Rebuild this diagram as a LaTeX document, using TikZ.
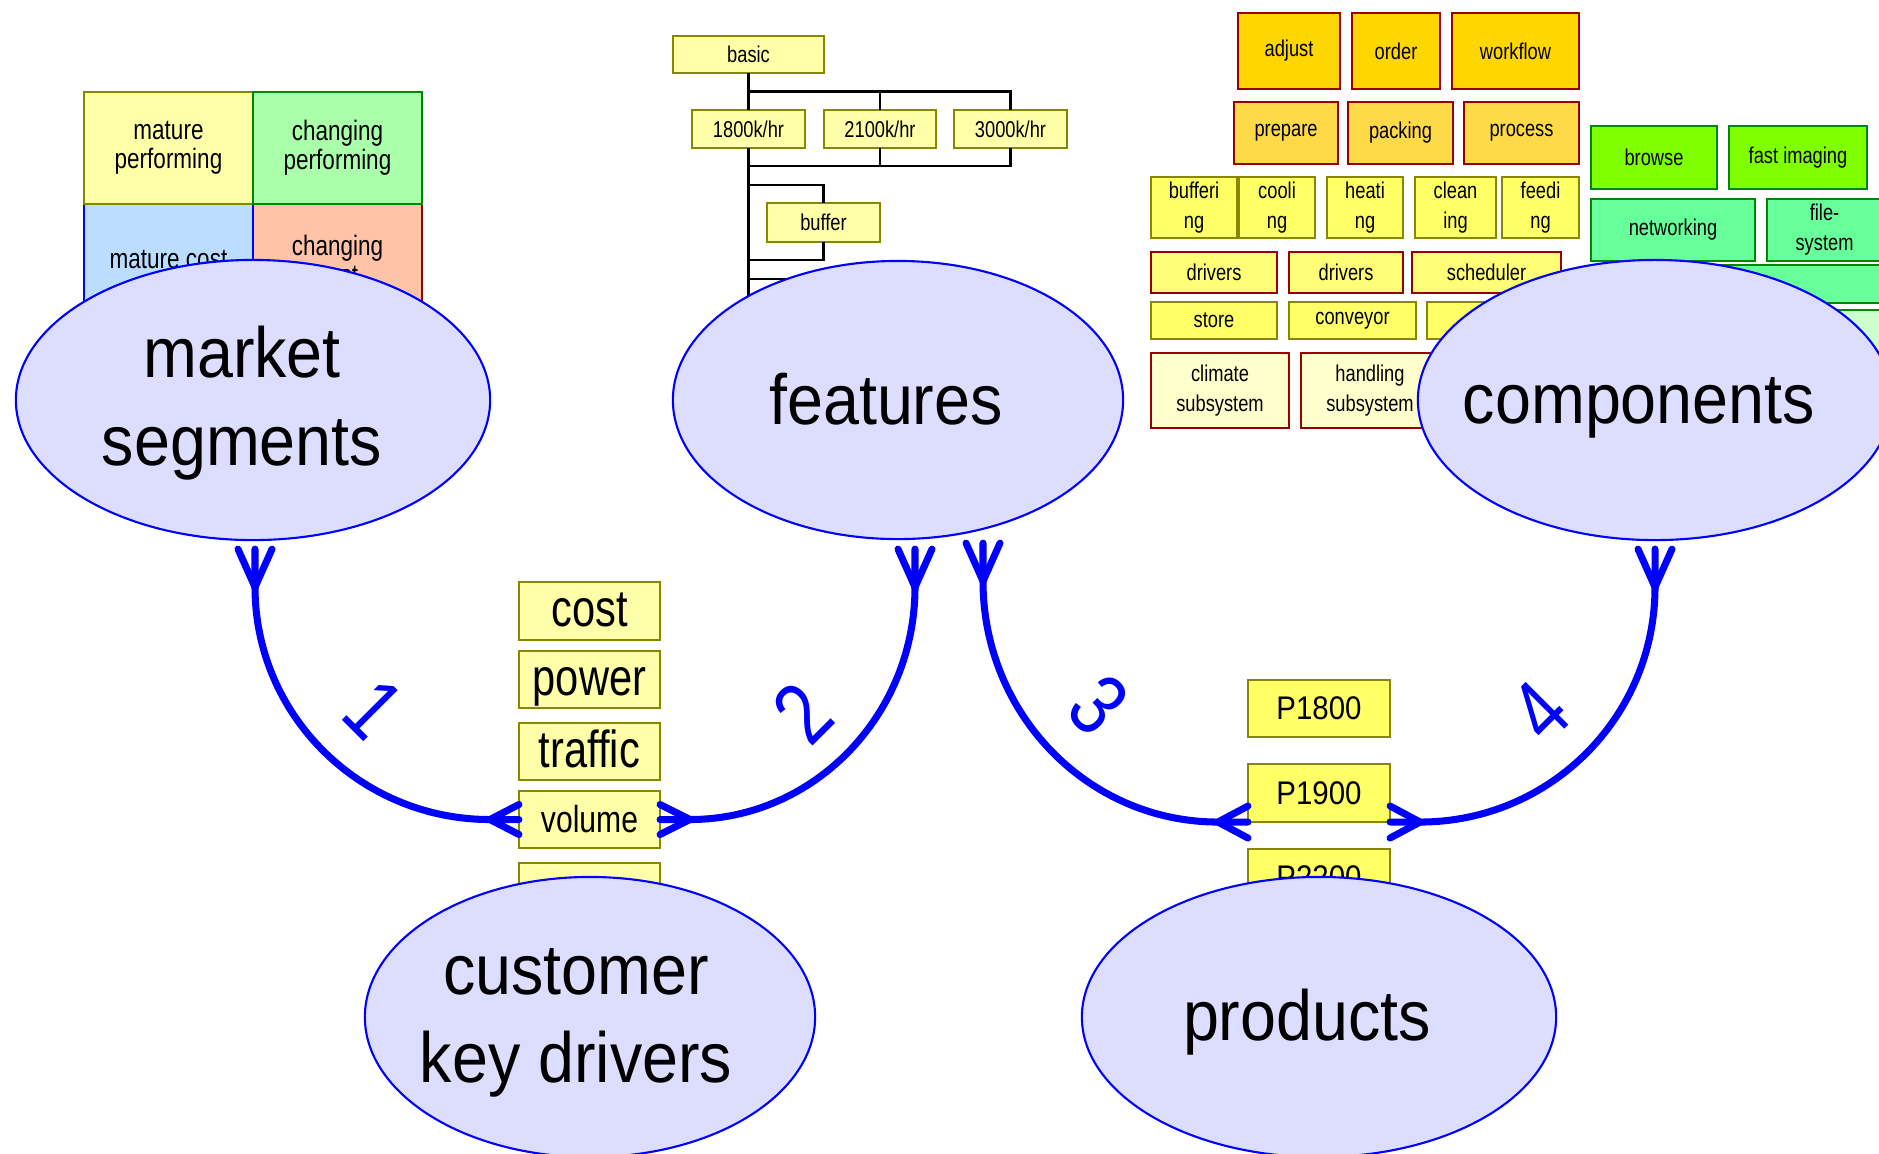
\documentclass[tikz,border=0pt]{standalone}
\usepackage{fontspec}
\setmainfont{Liberation Sans}
\newfontfamily\narrowsf[FakeStretch=0.8]{Liberation Sans}
\newfontfamily\bubblesf[FakeStretch=0.91]{Liberation Sans}
\newfontfamily\prodsf[FakeStretch=0.9]{Liberation Sans}
\usetikzlibrary{shapes.geometric,calc}

\definecolor{bubble}{RGB}{221,221,255}
\definecolor{paleyellow}{RGB}{255,255,170}
\definecolor{oliveline}{RGB}{136,136,0}
\definecolor{redline}{RGB}{153,0,0}
\definecolor{greenline}{RGB}{0,136,0}
\definecolor{goldA}{RGB}{255,215,0}
\definecolor{goldB}{RGB}{255,218,72}
\definecolor{yellowA}{RGB}{255,255,102}
\definecolor{yellowB}{RGB}{255,255,119}
\definecolor{cream}{RGB}{255,255,204}
\definecolor{limefill}{RGB}{128,255,0}
\definecolor{mintfill}{RGB}{102,255,153}
\definecolor{palegreen}{RGB}{204,255,204}
\definecolor{seggreen}{RGB}{170,255,170}
\definecolor{segblue}{RGB}{187,221,255}
\definecolor{segorange}{RGB}{255,196,168}

\begin{document}
\begin{tikzpicture}[x=0.01cm,y=-0.01cm,
  box/.style={draw, rectangle, inner sep=0pt, outer sep=0pt, line width=0.65pt, align=center},
  sz/.style 2 args={minimum width=#1cm, minimum height=#2cm},
  oliveBox/.style={box, draw=oliveline},
  redBox/.style={box, draw=redline},
  greenBox/.style={box, draw=greenline},
  small/.style={font=\narrowsf\fontsize{6.5pt}{8.5pt}\selectfont},
  segtext/.style={font=\narrowsf\fontsize{8pt}{8.3pt}\selectfont},
  bigkey/.style={font=\narrowsf\fontsize{14.8pt}{16pt}\selectfont, text height=8.8pt, text depth=0pt},
  midkey/.style={font=\narrowsf\fontsize{10.7pt}{12pt}\selectfont, text height=7.1pt, text depth=0pt},
  prodtext/.style={font=\prodsf\fontsize{9.3pt}{11pt}\selectfont},
  bubbleshape/.style={ellipse, draw=blue, fill=bubble, line width=0.6pt, inner sep=0pt, outer sep=0pt},
  bubbletext/.style={font=\bubblesf\fontsize{20.2pt}{24.75pt}\selectfont, align=center, anchor=base, inner sep=0pt},
  tree/.style={draw=black, line width=0.6pt},
  conn/.style={draw=blue, line width=2pt, line cap=round, line join=round},
  num/.style={font=\narrowsf\fontsize{25pt}{25pt}\selectfont, text=blue, inner sep=0pt}
]
\clip (0,0) rectangle (1879,1153);
\fill[white] (0,0) rectangle (1879,1153);

% ---- market segments grid ----
\node[box, draw=redline, fill=segorange, sz={1.69}{1.12}, segtext] (cc) at (337.5,260) {changing\\cost};
\node[box, draw=blue, fill=segblue, sz={1.69}{1.12}, segtext] (mc) at (168.5,260) {mature cost};
\node[oliveBox, fill=paleyellow, sz={1.69}{1.12}, segtext] (mp) at (168.5,148) {mature\\performing};
\node[greenBox, fill=seggreen, sz={1.69}{1.12}, segtext] (cp) at (337.5,148) {changing\\performing};

% ---- feature tree ----
\node[oliveBox, fill=paleyellow, sz={1.51}{0.37}, small] (basic) at (748.5,54.5) {basic};
\node[oliveBox, fill=paleyellow, sz={1.13}{0.38}, small] (r18) at (748.5,129) {1800k/hr};
\node[oliveBox, fill=paleyellow, sz={1.12}{0.38}, small] (r21) at (880,129) {2100k/hr};
\node[oliveBox, fill=paleyellow, sz={1.13}{0.38}, small] (r30) at (1010.5,129) {3000k/hr};
\node[oliveBox, fill=paleyellow, sz={1.13}{0.39}, small] (buf) at (823.5,222.5) {buffer};
\coordinate (j0) at ($(basic.south)!0.5!(r18.north)$);
\coordinate (j1) at ($(r18.south)+(0,18)$);
\coordinate (j2) at ($(r18.south)+(0,37)$);
\coordinate (j3) at ($(r18.south)+(0,112)$);
\coordinate (j4) at ($(r18.south)+(0,131)$);
\draw[tree] (basic.south) -- (r18.north);
\draw[tree] (j0) -| (r21.north);
\draw[tree] (j0) -| (r30.north);
\draw[tree] (r21.south) |- (j1);
\draw[tree] (r30.south) |- (j1);
\draw[tree] (r18.south) -- ++(0,200);
\draw[tree] (j2) -| (buf.north);
\draw[tree] (buf.south) |- (j3);
\draw[tree] (j4) -- ++(100,0);

% ---- component blocks ----
\node[redBox, fill=goldA, sz={1.02}{0.76}, small] (adjust) at (1289,51) {adjust};
\node[redBox, fill=goldA, sz={0.88}{0.76}, small] (order) at (1396,51) {order};
\node[redBox, fill=goldA, sz={1.27}{0.76}, small] (workflow) at (1515.5,51) {workflow};
\node[redBox, fill=goldB, sz={1.04}{0.62}, small] (prepare) at (1286,133) {prepare};
\node[redBox, fill=goldB, sz={1.05}{0.62}, small] (packing) at (1400.5,133) {packing};
\node[redBox, fill=goldB, sz={1.15}{0.62}, small] (process) at (1521.5,133) {process};
\node[oliveBox, fill=yellowA, sz={0.86}{0.61}, small] (buffering) at (1194,207.5) {bufferi\\ng};
\node[oliveBox, fill=yellowA, sz={0.76}{0.61}, small] (cooling) at (1277,207.5) {cooli\\ng};
\node[oliveBox, fill=yellowA, sz={0.76}{0.61}, small] (heating) at (1365,207.5) {heati\\ng};
\node[oliveBox, fill=yellowA, sz={0.81}{0.61}, small] (cleaning) at (1455.5,207.5) {clean\\ing};
\node[oliveBox, fill=yellowA, sz={0.77}{0.61}, small] (feeding) at (1540.5,207.5) {feedi\\ng};
\node[redBox, fill=yellowB, sz={1.26}{0.41}, small] (drvA) at (1214,272.5) {drivers};
\node[redBox, fill=yellowB, sz={1.14}{0.41}, small] (drvB) at (1346,272.5) {drivers};
\node[redBox, fill=yellowB, sz={1.49}{0.41}, small] (sched) at (1486.5,272.5) {scheduler};
\node[oliveBox, fill=yellowA, sz={1.26}{0.37}, small] (store) at (1214,320.5) {store};
\node[oliveBox, fill=yellowA, sz={1.27}{0.37}, small] (conveyor) at (1352.5,320.5) {conveyor};
\node[oliveBox, fill=yellowA, sz={1.34}{0.37}, small] (rowfive) at (1494,320.5) {};
\node[redBox, fill=cream, sz={1.38}{0.75}, small] (climate) at (1220,390.5) {climate\\subsystem};
\node[redBox, fill=cream, sz={1.38}{0.75}, small] (handling) at (1370,390.5) {handling\\subsystem};

\node[greenBox, fill=limefill, sz={1.26}{0.63}, small] (browse) at (1654,157.5) {browse};
\node[greenBox, fill=limefill, sz={1.38}{0.63}, small] (fastimg) at (1798,157.5) {fast imaging};
\node[greenBox, fill=mintfill, sz={1.64}{0.62}, small] (networking) at (1673,230) {networking};
\node[greenBox, fill=mintfill, sz={1.15}{0.62}, small] (filesys) at (1824.5,230) {file-\\system};
\node[greenBox, fill=mintfill, sz={2.99}{0.38}] (gthree) at (1740.5,284) {};
\node[greenBox, fill=palegreen, sz={2.99}{0.42}] (gfour) at (1740.5,331) {};

% ---- key drivers ----
\node[oliveBox, fill=paleyellow, sz={1.41}{0.58}, bigkey] (cost) at (589.5,611) {cost};
\node[oliveBox, fill=paleyellow, sz={1.41}{0.57}, bigkey] (power) at (589.5,679.5) {power};
\node[oliveBox, fill=paleyellow, sz={1.41}{0.57}, bigkey] (traffic) at (589.5,751.5) {traffic};
\node[oliveBox, fill=paleyellow, sz={1.41}{0.57}, midkey] (vol) at (589.5,819.5) {volume};
\node[oliveBox, fill=paleyellow, sz={1.41}{0.57}, midkey] (quality) at (589.5,891.5) {quality};

% ---- products ----
\node[oliveBox, fill=yellowA, sz={1.42}{0.57}, prodtext] (p18) at (1319,708.5) {P1800};
\node[oliveBox, fill=yellowA, sz={1.42}{0.58}, prodtext] (p19) at (1319,793) {P1900};
\node[oliveBox, fill=yellowA, sz={1.42}{0.57}, prodtext] (p22) at (1319,877.5) {P2200};

% ---- the five bubbles ----
\node[bubbleshape, minimum width=4.74cm, minimum height=2.80cm] (ms) at (253,400) {};
\node[bubbleshape, minimum width=4.50cm, minimum height=2.78cm] (fe) at (898,400) {};
\node[bubbleshape, minimum width=4.74cm, minimum height=2.80cm] (co) at (1655,400) {};
\node[bubbleshape, minimum width=4.50cm, minimum height=2.80cm] (ckd) at (590,1017) {};
\node[bubbleshape, minimum width=4.74cm, minimum height=2.80cm] (pr) at (1319,1017) {};

% base anchor of a two-line text sits on its last line
\node[bubbletext] (mstext) at (242,465) {market\\segments};
\node[bubbletext] (fetext) at (886,424) {features};
\node[bubbletext] (cotext) at (1639,423) {components};
\node[bubbletext] (ckdtext) at (576,1082) {customer\\key drivers};
\node[bubbletext] (prtext) at (1307,1040) {products};

% ---- connectors with crow's feet ----
\coordinate (t1) at ($(ms.south)+(2,9)$);
\coordinate (a1) at ($(t1)+(0,38)$);
\coordinate (t1b) at (vol.west);
\coordinate (a1b) at ($(t1b)+(-29,0)$);
\draw[conn] (t1) -- (a1) .. controls ($(a1)+(0,128)$) and ($(a1b)+(-130,0)$) .. (a1b) -- (t1b);
\draw[conn] ($(t1)+(-17,0)$) -- (a1) -- ($(t1)+(17,0)$);
\draw[conn] ($(t1b)+(0,-15)$) -- (a1b) -- ($(t1b)+(0,15)$);

\coordinate (t2) at ($(fe.south)+(17,10)$);
\coordinate (a2) at ($(t2)+(0,38)$);
\coordinate (t2b) at (vol.east);
\coordinate (a2b) at ($(t2b)+(30,0)$);
\draw[conn] (t2) -- (a2) .. controls ($(a2)+(0,128)$) and ($(a2b)+(124,0)$) .. (a2b) -- (t2b);
\draw[conn] ($(t2)+(-17,0)$) -- (a2) -- ($(t2)+(17,0)$);
\draw[conn] ($(t2b)+(0,-15)$) -- (a2b) -- ($(t2b)+(0,15)$);

\coordinate (t3) at ($(fe.south)+(85,4)$);
\coordinate (a3) at ($(t3)+(0,38)$);
\coordinate (t3b) at (p19.south west);
\coordinate (a3b) at ($(t3b)+(-30,0)$);
\draw[conn] (t3) -- (a3) .. controls ($(a3)+(0,133)$) and ($(a3b)+(-130,0)$) .. (a3b) -- (t3b);
\draw[conn] ($(t3)+(-17,0)$) -- (a3) -- ($(t3)+(17,0)$);
\draw[conn] ($(t3b)+(0,-16)$) -- (a3b) -- ($(t3b)+(0,16)$);

\coordinate (t4) at ($(co.south)+(0,9)$);
\coordinate (a4) at ($(t4)+(0,38)$);
\coordinate (t4b) at (p19.south east);
\coordinate (a4b) at ($(t4b)+(30,0)$);
\draw[conn] (t4) -- (a4) .. controls ($(a4)+(0,130)$) and ($(a4b)+(130,0)$) .. (a4b) -- (t4b);
\draw[conn] ($(t4)+(-17,0)$) -- (a4) -- ($(t4)+(17,0)$);
\draw[conn] ($(t4b)+(0,-16)$) -- (a4b) -- ($(t4b)+(0,16)$);

\node[num, rotate=-45] (n1) at (374,709) {1};
\node[num, rotate=45] (n2) at (803,713) {2};
\node[num, rotate=-45] (n3) at (1099,705) {3};
\node[num, rotate=45] (n4) at (1540,711) {4};
\end{tikzpicture}
\end{document}
